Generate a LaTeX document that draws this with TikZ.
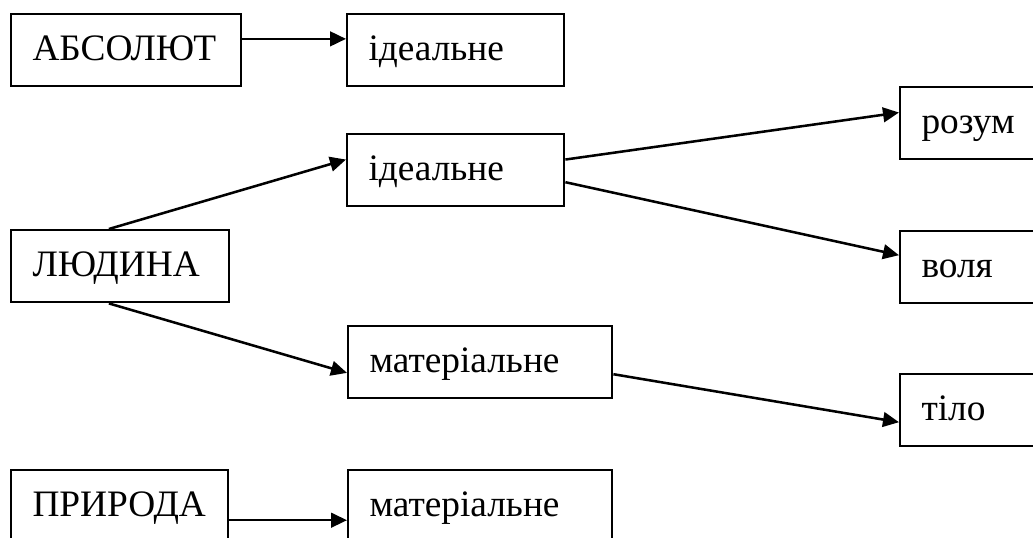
\documentclass[tikz,border=0pt]{standalone}
\usepackage{fontspec}
\setmainfont{Liberation Serif}
\usetikzlibrary{arrows.meta}
\tikzset{
    box/.style={draw,line width=1.8pt,anchor=north west,minimum height=54pt,
        inner xsep=16pt,align=left,text height=19pt,text depth=4pt,
        font=\fontsize{28}{34}\selectfont},
    arr/.style={line width=1.9pt,-{Triangle[length=12pt,width=11pt]}}
}
\begin{document}
\begin{tikzpicture}[x=0.75pt,y=-0.75pt]
                \clip (0,0) rectangle (1033,537);
                \fill[white] (0,0) rectangle (1033,537);
                \node[box,text width=140.5pt] (abs) at (10,13) {АБСОЛЮТ};
                \node[box,text width=130.75pt] (ideal1) at (346,13) {ідеальне};
                \node[box,text width=130.75pt] (ideal2) at (346,133) {ідеальне};
                \node[box,text width=131.5pt] (lyud) at (10,229) {ЛЮДИНА};
                \node[box,text width=166pt] (mat1) at (347,325) {матеріальне};
                \node[box,text width=88pt] (rozum) at (899,86) {розум};
                \node[box,text width=88pt] (volya) at (899,230) {воля};
                \node[box,text width=88pt] (tilo) at (899,373) {тіло};
                \node[box,text width=130.75pt] (pryr) at (10,469) {ПРИРОДА};
                \node[box,text width=166pt] (mat2) at (347,469) {матеріальне};
                \draw[arr] ([yshift=8.5pt]abs.east) -- ([yshift=8.5pt]ideal1.west);
                \draw[arr] ([xshift=-8.5pt]lyud.north) -- ([yshift=8pt]ideal2.west);
                \draw[arr] ([xshift=-8.5pt]lyud.south) -- ([yshift=-8pt]mat1.west);
                \draw[arr] ([yshift=8pt]ideal2.east) -- ([yshift=8pt]rozum.west);
                \draw[arr] ([yshift=-9pt]ideal2.east) -- ([yshift=9pt]volya.west);
                \draw[arr] ([yshift=-9pt]mat1.east) -- ([yshift=-9pt]tilo.west);
                \draw[arr] ([yshift=-10.5pt]pryr.east) -- ([yshift=-10.5pt]mat2.west);
            \end{tikzpicture}
\end{document}
